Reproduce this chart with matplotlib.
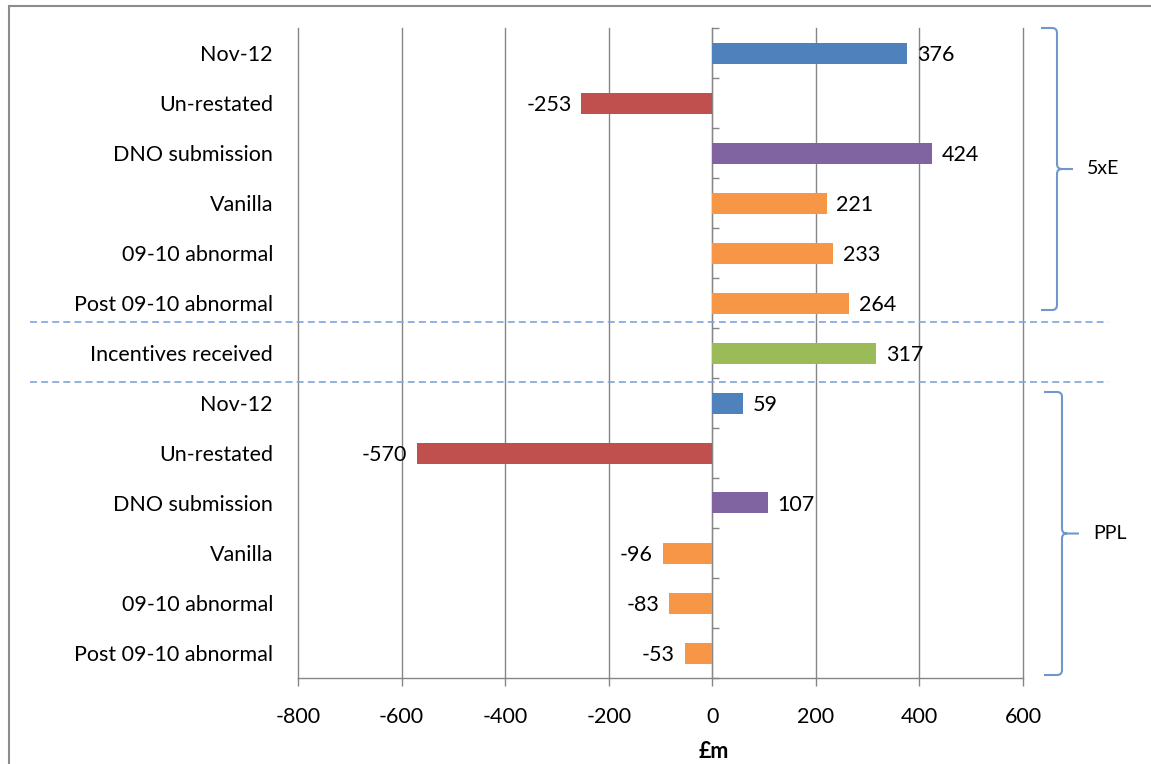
import matplotlib
matplotlib.use("Agg")
import matplotlib.pyplot as plt
from matplotlib.path import Path
from matplotlib.patches import PathPatch, Rectangle
from matplotlib.lines import Line2D

plt.rcParams['font.family'] = ['Lato', 'DejaVu Sans']
plt.rcParams['lines.scale_dashes'] = False

# ---- data -------------------------------------------------------------
categories = ["Nov-12", "Un-restated", "DNO submission", "Vanilla",
              "09-10 abnormal", "Post 09-10 abnormal", "Incentives received",
              "Nov-12", "Un-restated", "DNO submission", "Vanilla",
              "09-10 abnormal", "Post 09-10 abnormal"]
values = [376, -253, 424, 221, 233, 264, 317, 59, -570, 107, -96, -83, -53]
bar_colors = ["#4F81BD", "#C0504D", "#8064A2", "#F79646", "#F79646", "#F79646",
              "#9BBB59",
              "#4F81BD", "#C0504D", "#8064A2", "#F79646", "#F79646", "#F79646"]
x_ticks = [-800, -600, -400, -200, 0, 200, 400, 600]
group_labels = ["5xE", "PPL"]
x_title = "£m"

# ---- figure -----------------------------------------------------------
W, H = 1151, 764
fig = plt.figure(figsize=(W / 100, H / 100), dpi=100)


def fx(x):
    return x / W


def fy(y):
    return 1 - y / H


ax = fig.add_axes([fx(298), fy(678), fx(1023) - fx(298), fy(28) - fy(678)])

GRID = "#868686"
FS = 15.5

pos = list(range(len(categories)))
ax.barh(pos, values, height=0.42, color=bar_colors, zorder=3)

ax.set_xlim(x_ticks[0], x_ticks[-1])
ax.set_ylim(len(categories) - 0.5, -0.5)

# vertical gridlines
for t in x_ticks:
    ax.axvline(t, color=GRID, lw=1.0, zorder=1, clip_on=False)

ax.set_xticks(x_ticks)
ax.set_xticklabels([str(t) for t in x_ticks], fontsize=FS)
ax.tick_params(axis='x', length=6, width=1.0, color=GRID, pad=15, direction='out')

ax.set_yticks(pos)
ax.set_yticklabels(categories, fontsize=FS)
ax.tick_params(axis='y', length=0, pad=18)

for side in ['top', 'right', 'left']:
    ax.spines[side].set_visible(False)
ax.spines['bottom'].set_color(GRID)
ax.spines['bottom'].set_linewidth(1.0)

# category axis crossing at zero, with ticks between categories
zero_frac = (0 - x_ticks[0]) / (x_ticks[-1] - x_ticks[0])
sec = ax.secondary_yaxis(zero_frac)
sec.set_yticks([p - 0.5 for p in pos] + [pos[-1] + 0.5])
sec.set_yticklabels([])
sec.tick_params(length=5, width=1.0, color=GRID)
sec.spines['left'].set_color(GRID)
sec.spines['left'].set_linewidth(1.2)

# value labels
for p, v in zip(pos, values):
    if v >= 0:
        ax.annotate(str(v), (v, p), xytext=(7, -1.5), textcoords='offset points',
                    ha='left', va='center', fontsize=FS, zorder=4)
    else:
        ax.annotate(str(v), (v, p), xytext=(-7, -1.5), textcoords='offset points',
                    ha='right', va='center', fontsize=FS, zorder=4)

fig.text(fx(714), fy(752), x_title, ha='center', va='center',
         fontsize=FS, fontweight='bold')

# outer frame
fig.add_artist(Rectangle((fx(9), fy(800)), fx(1200) - fx(9), fy(6) - fy(800),
                         transform=fig.transFigure, fill=False,
                         edgecolor="#8C8C8C", lw=1.5))

# dashed separators around the incentives row
SEP = "#7EA6D8"
for yy in (322, 382):
    fig.add_artist(Line2D([fx(30), fx(1108)], [fy(yy), fy(yy)],
                          transform=fig.transFigure, color=SEP, lw=1.2,
                          linestyle=(0, (5, 3))))


# curly brackets for the two groups
def bracket(x0, xv, xt, y0, y1):
    ym = (y0 + y1) / 2
    r = 5
    verts = [
        (x0, y0), (xv - r, y0), (xv, y0), (xv, y0 + r),
        (xv, ym - r), (xv, ym), (xv + r, ym), (xt, ym),
        (xv + r, ym), (xv, ym), (xv, ym + r),
        (xv, y1 - r), (xv, y1), (xv - r, y1), (x0, y1),
    ]
    codes = [Path.MOVETO, Path.LINETO, Path.CURVE3, Path.CURVE3,
             Path.LINETO, Path.CURVE3, Path.CURVE3, Path.LINETO,
             Path.MOVETO, Path.CURVE3, Path.CURVE3,
             Path.LINETO, Path.CURVE3, Path.CURVE3, Path.LINETO]
    path = Path([(fx(a), fy(b)) for a, b in verts], codes)
    fig.add_artist(PathPatch(path, transform=fig.transFigure, fill=False,
                             edgecolor="#6F97CD", lw=1.5))
    return ym


m1 = bracket(1041, 1057, 1073, 28, 310)
fig.text(fx(1087), fy(m1), group_labels[0], ha='left', va='center', fontsize=14)
m2 = bracket(1044, 1062, 1079, 392, 675)
fig.text(fx(1093), fy(m2), group_labels[1], ha='left', va='center', fontsize=14)

fig.savefig("out.png", dpi=100)
